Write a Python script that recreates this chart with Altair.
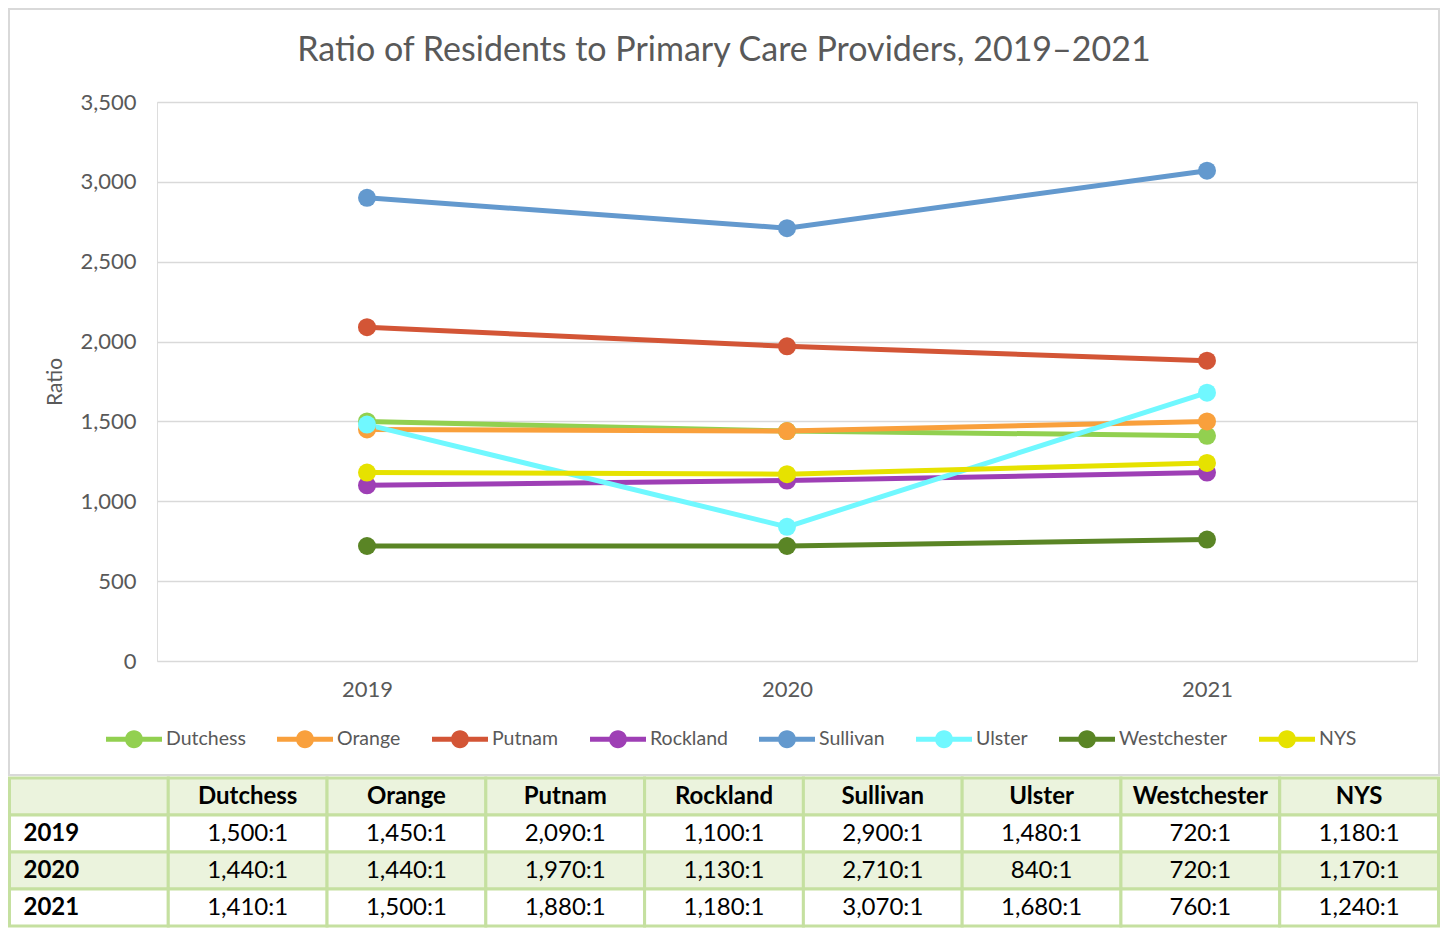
import altair as alt
import pandas as pd

# ---- data ----
years = ["2019", "2020", "2021"]
series = ["Dutchess", "Orange", "Putnam", "Rockland", "Sullivan", "Ulster", "Westchester", "NYS"]
dutchess = [1500, 1440, 1410]
orange = [1450, 1440, 1500]
putnam = [2090, 1970, 1880]
rockland = [1100, 1130, 1180]
sullivan = [2900, 2710, 3070]
ulster = [1480, 840, 1680]
westchester = [720, 720, 760]
nys = [1180, 1170, 1240]
colors = ["#92D050", "#F9A03C", "#D35536", "#9E3FB5", "#6399CE", "#70F8FF", "#5A8525", "#E6E200"]
y_ticks = [0, 500, 1000, 1500, 2000, 2500, 3000, 3500]
title_text = "Ratio of Residents to Primary Care Providers, 2019\u20132021"

all_values = [dutchess, orange, putnam, rockland, sullivan, ulster, westchester, nys]
rows = []
for s, vals in zip(series, all_values):
    for yr, v in zip(years, vals):
        rows.append({"Series": s, "Year": yr, "Ratio": v})
df = pd.DataFrame(rows)

FONT = "Lato"
GRAY = "#595959"
W, H = 1260, 559

# legend symbol: line with a circle in the middle
SYMBOL = ("M-1,-0.09L1,-0.09L1,0.09L-1,0.09Z "
          "M0.32,0A0.32,0.32,0,1,1,-0.32,0A0.32,0.32,0,1,1,0.32,0Z")

x_enc = alt.X("Year:N", scale=alt.Scale(type="point", padding=0.5),
              axis=alt.Axis(title=None, labelAngle=0, labelFontSize=22, labelColor=GRAY,
                            labelFont=FONT, ticks=False, tickSize=0, domain=False,
                            labelPadding=18, grid=False))
y_enc = alt.Y("Ratio:Q", scale=alt.Scale(domain=[0, 3500], nice=False),
              axis=alt.Axis(values=y_ticks, format=",.0f", title="Ratio", titleFontSize=21,
                            titleFont=FONT, titleColor=GRAY, titleFontWeight="normal",
                            titlePadding=14, labelFontSize=22, labelColor=GRAY, labelFont=FONT,
                            ticks=False, tickSize=0, domain=False, labelPadding=21,
                            grid=True, gridColor="#D9D9D9", gridWidth=1.5))


def make_legend():
    return alt.Legend(title=None, orient="none", legendX=-51, legendY=609,
                      direction="horizontal", symbolType=SYMBOL,
                      symbolSize=3136, symbolStrokeWidth=0, symbolOpacity=1,
                      labelFontSize=19.5, labelColor=GRAY, labelFont=FONT,
                      labelOffset=4, columnPadding=31, padding=0)


color_scale = alt.Scale(domain=series, range=colors)

frame = alt.Chart(pd.DataFrame({"k": [0]})).mark_rect(
    fill="transparent", stroke="#D9D9D9", strokeWidth=2, clip=False
).encode(x=alt.value(-148), x2=alt.value(1282), y=alt.value(-93), y2=alt.value(673))

lines = alt.Chart(df).mark_line(strokeWidth=5).encode(
    x=x_enc, y=y_enc,
    color=alt.Color("Series:N", scale=color_scale, sort=series, legend=make_legend()),
)

points = alt.Chart(df).mark_point(filled=True, size=324, opacity=1).encode(
    x=x_enc, y=y_enc,
    color=alt.Color("Series:N", scale=color_scale, sort=series, legend=make_legend()),
)

plot = alt.layer(lines, points)

# ---- table (below the chart frame) ----
col_keys = ["c0"] + ["c%d" % (i + 1) for i in range(len(series))]
row_keys = ["hdr"] + years
trows = []
for ri, rk in enumerate(row_keys):
    for ci, ck in enumerate(col_keys):
        if rk == "hdr":
            txt = "" if ci == 0 else series[ci - 1]
        else:
            yi = years.index(rk)
            txt = rk if ci == 0 else "{:,}:1".format(all_values[ci - 1][yi])
        kind = "head" if rk == "hdr" else ("year" if ci == 0 else "val")
        shade = "g" if (rk == "hdr" or rk == "2020") else "w"
        trows.append({"row": rk, "col": ck, "text": txt, "kind": kind, "shade": shade})
tdf = pd.DataFrame(trows)

tx_scale = alt.Scale(domain=col_keys, range=[-147.5, 1281.5], paddingInner=0, paddingOuter=0)
ty_scale = alt.Scale(domain=row_keys, range=[676, 824], paddingInner=0, paddingOuter=0)
tx = alt.X("col:N", sort=col_keys, axis=None, scale=tx_scale)
ty = alt.Y("row:N", sort=row_keys, axis=None, scale=ty_scale)

cells = alt.Chart(tdf).mark_rect(stroke="#C5E0A0", strokeWidth=3).encode(
    x=tx, y=ty,
    fill=alt.Fill("shade:N", scale=alt.Scale(domain=["g", "w"], range=["#EBF3DD", "#FFFFFF"]),
                  legend=None),
)
head_txt = alt.Chart(tdf).transform_filter("datum.kind == 'head'").mark_text(
    font=FONT, fontSize=24, fontWeight="bold", color="#000000", baseline="middle"
).encode(x=tx, y=ty, text="text:N")
year_txt = alt.Chart(tdf).transform_filter("datum.kind == 'year'").mark_text(
    font=FONT, fontSize=24, fontWeight="bold", color="#000000", baseline="middle",
    align="left", dx=14
).encode(x=alt.X("col:N", sort=col_keys, axis=None, bandPosition=0, scale=tx_scale),
         y=ty, text="text:N")
val_txt = alt.Chart(tdf).transform_filter("datum.kind == 'val'").mark_text(
    font=FONT, fontSize=24, color="#000000", baseline="middle"
).encode(x=tx, y=ty, text="text:N")

table = alt.layer(cells, head_txt, year_txt, val_txt)

chart = alt.layer(frame, plot, table).resolve_scale(
    x="independent", y="independent"
).properties(
    width=W, height=H, padding=0,
    title=alt.TitleParams(text=title_text, fontSize=34, color=GRAY, font=FONT,
                          fontWeight="normal", anchor="middle", frame="bounds", offset=-60),
).configure_view(stroke=None).configure(font=FONT)

chart.save("out.html", embed_options={"renderer": "svg", "actions": False})
